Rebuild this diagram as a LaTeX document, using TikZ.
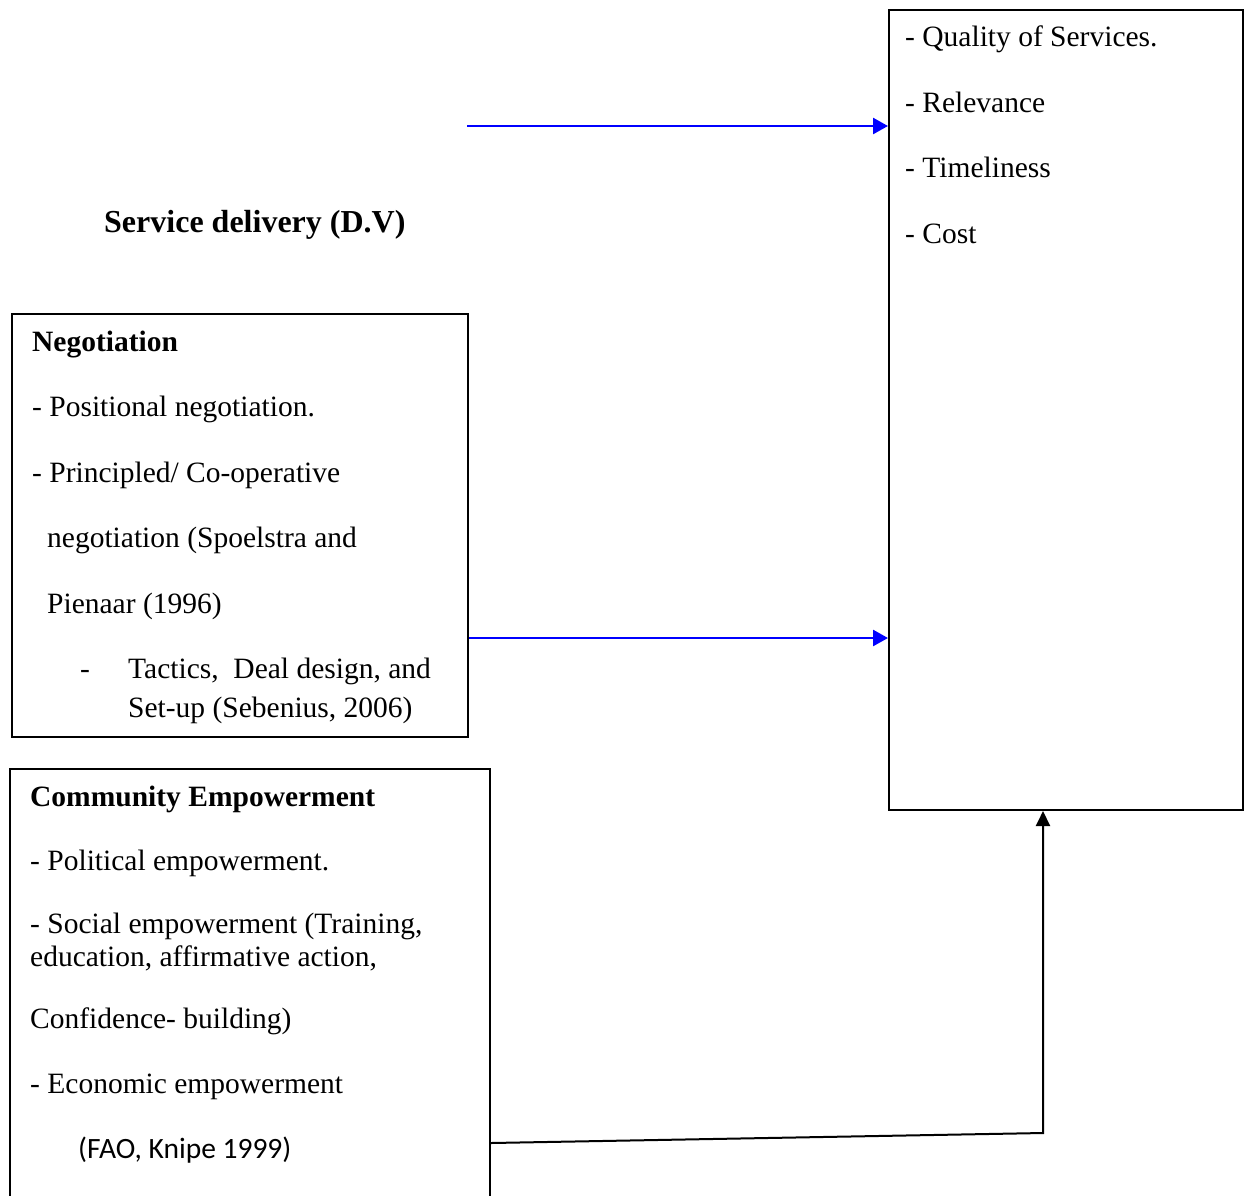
\documentclass[tikz,border=0pt]{standalone}
\usepackage{fontspec}
\setmainfont{Liberation Serif}
\newfontfamily\calib{Carlito}
\usetikzlibrary{arrows.meta}
\begin{document}
\begin{tikzpicture}[x=1pt,y=-1pt,
  box/.style={draw=black,line width=2pt,fill=none,inner sep=0pt,anchor=north west},
  txt/.style={inner sep=0pt,anchor=base west,font=\fontsize{29.5}{34}\selectfont},
  btxt/.style={txt,font=\fontsize{29.5}{34}\selectfont\bfseries},
  blu/.style={draw={rgb,255:red,0;green,0;blue,255},line width=2.6pt,-{Triangle[length=15pt,width=16pt]}},
  conn/.style={draw=black,line width=2pt,-{Triangle[length=15pt,width=14pt]}}]
\clip (0,0) rectangle (1244,1195);
\fill[white] (0,0) rectangle (1244,1195);
% boxes
\node[box,minimum width=354pt,minimum height=800pt] (rb) at (888,9) {};
\node[box,minimum width=456pt,minimum height=423pt] (nb) at (11,313) {};
\node[box,minimum width=480pt,minimum height=460pt] (cb) at (9,768) {};
% right box text
\node[txt] (r1) at (905,46) {- Quality of Services.};
\node[txt] (r2) at (905,112) {- Relevance};
\node[txt] (r3) at (905,177) {- Timeliness};
\node[txt] (r4) at (905,243) {- Cost};
% title
\node[btxt,font=\fontsize{32}{36}\selectfont\bfseries] (title) at (104,232) {Service delivery (D.V)};
% negotiation
\node[btxt] (n0) at (32,351) {Negotiation};
\node[txt] (n1) at (32,416) {- Positional negotiation.};
\node[txt] (n2) at (32,482) {- Principled/ Co-operative};
\node[txt] (n3) at (47,547) {negotiation (Spoelstra and};
\node[txt] (n4) at (47,613) {Pienaar (1996)};
\node[txt] (n5d) at (80,678) {-};
\node[txt] (n5) at (128,678) {Tactics,\ \ Deal design, and};
\node[txt] (n6) at (128,717) {Set-up (Sebenius, 2006)};
% community
\node[btxt] (c0) at (30,806) {Community Empowerment};
\node[txt] (c1) at (30,870) {- Political empowerment.};
\node[txt] (c2) at (30,933) {- Social empowerment (Training,};
\node[txt] (c3) at (30,966) {education, affirmative action,};
\node[txt] (c4) at (30,1028) {Confidence- building)};
\node[txt] (c5) at (30,1093) {- Economic empowerment};
\node[txt,font=\fontsize{29.5}{34}\calib] (c6) at (78,1158) {(FAO, Knipe 1999)};
% connectors
\coordinate (a1s) at (467,126);
\draw[blu] (a1s) -- (a1s -| rb.west);
\coordinate (a2s) at (nb.east |- 0,638);
\draw[blu] (a2s) -- (a2s -| rb.west);
\coordinate (ce) at (cb.east |- 0,1143);
\coordinate (bend) at (1043,1133);
\draw[conn] (ce) -- (bend) -- (bend |- rb.south);
\end{tikzpicture}
\end{document}
